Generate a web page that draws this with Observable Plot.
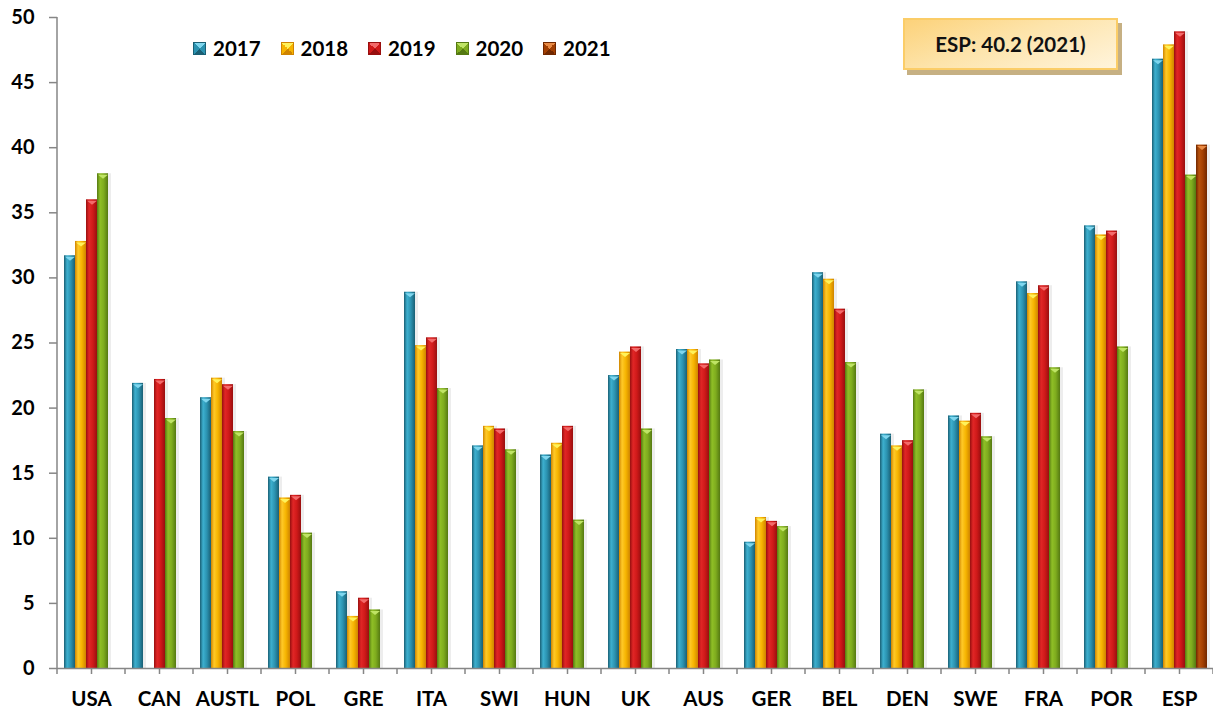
<!DOCTYPE html>
<html>
<head>
<meta charset="utf-8">
<script src="https://cdn.jsdelivr.net/npm/d3@7"></script>
<script src="https://cdn.jsdelivr.net/npm/@observablehq/plot@0.6"></script>
<style>
  html, body { margin: 0; padding: 0; background: #fff; }
  body { font-family: Lato, "Open Sans", "DejaVu Sans", sans-serif; }
  #wrap { position: relative; width: 1213px; height: 713px; }
  #legend { position: absolute; left: 193px; top: 38px; display: flex; }
  .item { display: flex; align-items: center; width: 87.5px; height: 21px; }
  .sw { width: 13px; height: 13px; margin-right: 7px; box-sizing: border-box; }
  .lbl { font-weight: 700; font-size: 20.5px; color: #000; line-height: 21px; }
  #note { position: absolute; left: 903px; top: 18px; width: 215px; height: 52px; box-sizing: border-box;
          border: 2px solid #fbcd68; box-shadow: 4px 5px 0 #c6b083;
          background: linear-gradient(160deg, #fcd27a 0%, #fde4ab 45%, #fff4dc 100%);
          display: flex; align-items: center; justify-content: center;
          font-weight: 700; font-size: 20.5px; color: #111; }
</style>
</head>
<body>
<div id="wrap"></div>
<script>
// ---- data ----
const categories = ["USA","CAN","AUSTL","POL","GRE","ITA","SWI","HUN","UK","AUS","GER","BEL","DEN","SWE","FRA","POR","ESP"];
const years = ["2017","2018","2019","2020","2021"];
const v2017 = [31.7, 21.9, 20.8, 14.7, 5.9, 28.9, 17.1, 16.4, 22.5, 24.5, 9.7, 30.4, 18.0, 19.4, 29.7, 34.0, 46.8];
const v2018 = [32.8, null, 22.3, 13.1, 4.0, 24.8, 18.6, 17.3, 24.3, 24.5, 11.6, 29.9, 17.1, 19.0, 28.8, 33.3, 47.9];
const v2019 = [36.0, 22.2, 21.8, 13.3, 5.4, 25.4, 18.4, 18.6, 24.7, 23.4, 11.3, 27.6, 17.5, 19.6, 29.4, 33.6, 48.9];
const v2020 = [38.0, 19.2, 18.2, 10.4, 4.5, 21.5, 16.8, 11.4, 18.4, 23.7, 10.9, 23.5, 21.4, 17.8, 23.1, 24.7, 37.9];
const v2021 = [null, null, null, null, null, null, null, null, null, null, null, null, null, null, null, null, 40.2];
const yTicks = [0, 5, 10, 15, 20, 25, 30, 35, 40, 45, 50];
const noteText = "ESP: 40.2 (2021)";

// ---- styling ----
const series = [v2017, v2018, v2019, v2020, v2021];
const palette = {
  "2017": {dark: "#1a5f74", light: "#3db0cf", mid: "#2b92b0", cap: "#7fd6ee"},
  "2018": {dark: "#cf8400", light: "#ffc928", mid: "#f6b400", cap: "#fff25a"},
  "2019": {dark: "#980f0f", light: "#e12626", mid: "#cf1919", cap: "#f36a6a"},
  "2020": {dark: "#557912", light: "#8fbf26", mid: "#7eab1e", cap: "#bfe465"},
  "2021": {dark: "#702700", light: "#b8520c", mid: "#a23f02", cap: "#e88a45"}
};

const data = categories.flatMap((c, i) =>
  years.map((y, j) => ({category: c, year: y, value: series[j][i]}))
).filter(d => d.value != null);

const capSymbol = {
  draw(context, size) {
    const r = Math.sqrt(size / Math.PI);
    context.moveTo(-r, 0);
    context.lineTo(r, 0);
    context.lineTo(0, r * 0.8);
    context.closePath();
  }
};

const plot = Plot.plot({
  width: 1213,
  height: 713,
  marginLeft: 57,
  marginRight: 0,
  marginTop: 17,
  marginBottom: 45,
  style: {fontFamily: 'Lato, "Open Sans", sans-serif', background: "#fff"},
  fx: {domain: categories, paddingInner: 0, paddingOuter: 0, label: null},
  x: {domain: years, paddingInner: 0, paddingOuter: 0.5, axis: null},
  y: {domain: [0, 50], label: null},
  marks: [
    Plot.barY(data, {fx: "category", x: "year", y: "value", fill: "#000", fillOpacity: 0.07, dx: 3}),
    ...years.map(yr => Plot.barY(data.filter(d => d.year === yr), {
      fx: "category", x: "year", y: "value", fill: `url(#grad-${yr})`
    })),
    ...years.map(yr => Plot.dot(data.filter(d => d.year === yr), {
      fx: "category", x: "year", y: "value", symbol: capSymbol, r: 5, dy: 1,
      fill: palette[yr].cap, stroke: null
    })),
    Plot.ruleY([0], {stroke: "#868686", strokeWidth: 1.5}),
    Plot.axisY({ticks: yTicks, tickSize: 8, tickPadding: 15, stroke: "#868686", fill: "#000",
                fontSize: 20, fontWeight: "bold", label: null, strokeWidth: 1.5}),
    Plot.axisFx({anchor: "bottom", tickSize: 6, tickPadding: 17, stroke: "#868686", fill: "#000",
                 fontSize: 20.5, fontWeight: "bold", label: null, strokeWidth: 1.5})
  ]
});

// gradients for the bars
const svg = d3.select(plot);
const defs = svg.insert("defs", ":first-child");
for (const yr of years) {
  const p = palette[yr];
  const g = defs.append("linearGradient").attr("id", `grad-${yr}`)
    .attr("x1", 0).attr("x2", 1).attr("y1", 0).attr("y2", 0);
  g.append("stop").attr("offset", "0%").attr("stop-color", p.dark);
  g.append("stop").attr("offset", "28%").attr("stop-color", p.light);
  g.append("stop").attr("offset", "62%").attr("stop-color", p.mid);
  g.append("stop").attr("offset", "100%").attr("stop-color", p.dark);
}

// y axis line and category boundary ticks, from the plot's own scales
const fx = plot.scale("fx");
const ys = plot.scale("y");
const y0 = ys.apply(0), yTop = ys.apply(50);
const left = fx.apply(categories[0]);
svg.append("line").attr("x1", left).attr("x2", left).attr("y1", yTop).attr("y2", y0)
  .attr("stroke", "#868686").attr("stroke-width", 1.5);
const bounds = categories.map(c => fx.apply(c)).concat([fx.apply(categories[categories.length - 1]) + fx.bandwidth]);
svg.append("g").selectAll("line").data(bounds).join("line")
  .attr("x1", d => d).attr("x2", d => d).attr("y1", y0).attr("y2", y0 + 6)
  .attr("stroke", "#868686").attr("stroke-width", 1.5);

const wrap = document.getElementById("wrap");
wrap.appendChild(plot);

// legend
const legend = document.createElement("div");
legend.id = "legend";
for (const yr of years) {
  const p = palette[yr];
  const item = document.createElement("div");
  item.className = "item";
  const sw = document.createElement("div");
  sw.className = "sw";
  sw.style.background = `conic-gradient(from -45deg, ${p.cap} 0 90deg, ${p.mid} 90deg 180deg, ${p.dark} 180deg 270deg, ${p.mid} 270deg 360deg)`;
  sw.style.border = `1px solid ${p.dark}`;
  const lb = document.createElement("span");
  lb.className = "lbl";
  lb.textContent = yr;
  item.appendChild(sw);
  item.appendChild(lb);
  legend.appendChild(item);
}
wrap.appendChild(legend);

// annotation box
const note = document.createElement("div");
note.id = "note";
note.textContent = noteText;
wrap.appendChild(note);
</script>
</body>
</html>
